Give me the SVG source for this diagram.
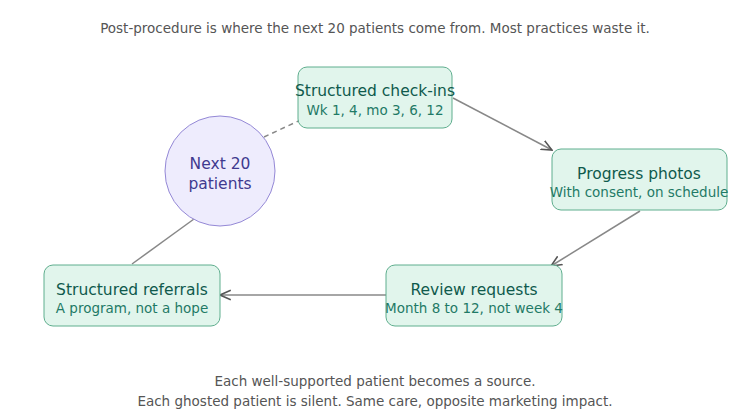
<svg xmlns="http://www.w3.org/2000/svg" width="750" height="419" viewBox="0 0 750 419">
<style>
text{font-family:"DejaVu Sans",sans-serif;text-anchor:middle}
.box{fill:#e1f5ec;stroke:#5fae8e;stroke-width:1}
.t{font-size:15.5px;fill:#0f5a4c}
.s{font-size:13.5px;fill:#1f7a66}
.cap{font-size:13.5px;fill:#555}
.e{stroke:#888;stroke-width:1.5;fill:none}
</style>
<defs><marker id="a" viewBox="0 0 10 10" refX="9" refY="5" markerWidth="8" markerHeight="8" orient="auto"><path d="M0,1 L9,5 L0,9" fill="none" stroke="#555" stroke-width="1.3"/></marker></defs>
<rect width="750" height="419" fill="#fff"/>
<text class="cap" x="375" y="33">Post-procedure is where the next 20 patients come from. Most practices waste it.</text>
<g id="connectors">
<line class="e" x1="453" y1="98" x2="552" y2="150" marker-end="url(#a)"/>
<line class="e" x1="640" y1="211" x2="551" y2="266" marker-end="url(#a)"/>
<line class="e" x1="386" y1="295" x2="220" y2="295" marker-end="url(#a)"/>
<line class="e" x1="132" y1="264" x2="194" y2="219"/>
<line class="e" x1="264" y1="137" x2="322" y2="110" stroke-dasharray="5,4" marker-end="url(#a)"/>
</g>
<g id="checkins"><rect class="box" x="298" y="67" width="154" height="61" rx="9"/><text class="t" x="375" y="96">Structured check-ins</text><text class="s" x="375" y="115">Wk 1, 4, mo 3, 6, 12</text></g>
<g id="photos"><rect class="box" x="552" y="149" width="175" height="61" rx="9"/><text class="t" x="639" y="179">Progress photos</text><text class="s" x="639" y="197">With consent, on schedule</text></g>
<g id="review"><rect class="box" x="386" y="265" width="176" height="61" rx="9"/><text class="t" x="474" y="295">Review requests</text><text class="s" x="474" y="313">Month 8 to 12, not week 4</text></g>
<g id="referrals"><rect class="box" x="44" y="265" width="176" height="61" rx="9"/><text class="t" x="132" y="295">Structured referrals</text><text class="s" x="132" y="313">A program, not a hope</text></g>
<g id="next20"><circle cx="220" cy="171" r="55" fill="#eeecfd" stroke="#9488d6"/><text x="220" y="169" style="font-size:15.5px;fill:#3f3a8f">Next 20</text><text x="220" y="189" style="font-size:15.5px;fill:#3f3a8f">patients</text></g>
<text class="cap" x="375" y="386">Each well-supported patient becomes a source.</text>
<text class="cap" x="375" y="406">Each ghosted patient is silent. Same care, opposite marketing impact.</text>
</svg>
